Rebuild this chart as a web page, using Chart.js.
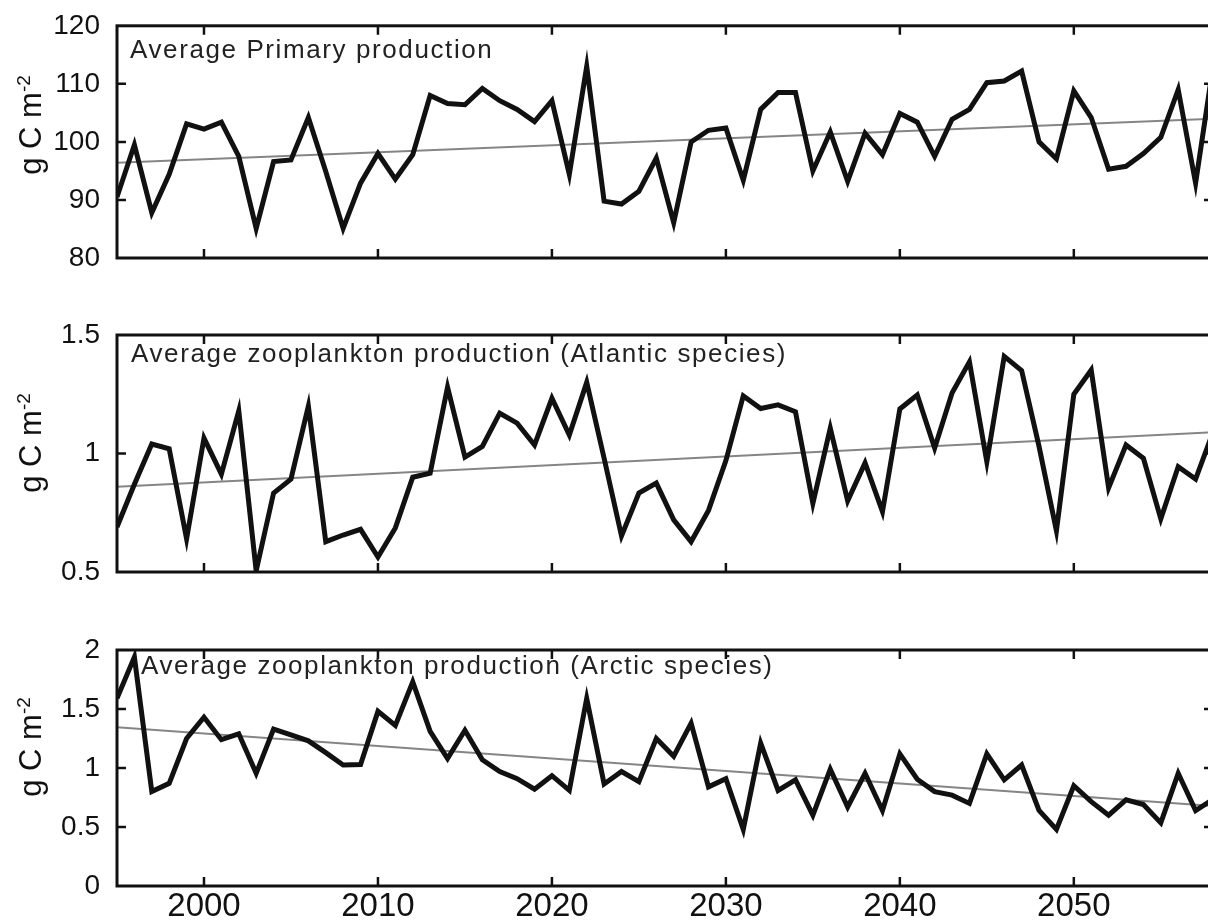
<!DOCTYPE html>
<html><head><meta charset="utf-8">
<script src="https://cdn.jsdelivr.net/npm/chart.js@4.4.1/dist/chart.umd.min.js"></script>
<style>
html,body{margin:0;padding:0;overflow:hidden;background:#fff;}
#wrap{position:relative;width:1208px;height:924px;overflow:hidden;background:#fff;}
canvas{position:absolute;left:0;}
.yt{position:absolute;left:30px;font-family:"Liberation Sans",Arial,sans-serif;font-size:31px;line-height:1;white-space:nowrap;transform:translate(-50%,-50%) rotate(-90deg);color:#111;}
.yt sup{font-size:19px;vertical-align:0.55em;line-height:0;}
</style></head>
<body><div id="wrap">
<canvas id="c1" width="1216" height="300" style="top:0px"></canvas>
<canvas id="c2" width="1216" height="300" style="top:300px"></canvas>
<canvas id="c3" width="1216" height="330" style="top:600px"></canvas>
<div class="yt" style="top:125px">g C m<sup>-2</sup></div>
<div class="yt" style="top:443px">g C m<sup>-2</sup></div>
<div class="yt" style="top:747px">g C m<sup>-2</sup></div>
</div>
<script>
// ---- categories ----
const years = [1995,1996,1997,1998,1999,2000,2001,2002,2003,2004,2005,2006,2007,2008,2009,2010,
  2011,2012,2013,2014,2015,2016,2017,2018,2019,2020,2021,2022,2023,2024,2025,2026,2027,2028,2029,2030,
  2031,2032,2033,2034,2035,2036,2037,2038,2039,2040,2041,2042,2043,2044,2045,2046,2047,2048,2049,2050,
  2051,2052,2053,2054,2055,2056,2057,2058];
const trendYears = [1995, 2058];

// ---- series values ----
const primaryProduction = [90.5,99.5,87.8,94.4,103.1,102.2,103.4,97.5,85.1,96.6,96.9,104.2,94.9,85.1,92.9,98.0,
  93.6,97.8,108.0,106.6,106.4,109.2,107.1,105.6,103.5,107.1,94.4,113.0,89.8,89.3,91.5,97.2,86.1,100.0,102.0,102.4,
  93.4,105.6,108.5,108.5,95.0,101.7,93.2,101.5,97.8,104.9,103.4,97.5,103.9,105.6,110.2,110.5,112.2,100.0,97.1,108.8,
  104.2,95.3,95.8,98.0,100.8,109.0,92.9,113.0];
const primaryTrend = [96.4, 104.0];

const atlanticZoo = [0.69,0.87,1.04,1.02,0.64,1.065,0.913,1.18,0.505,0.833,0.892,1.20,0.628,0.656,0.68,0.563,
  0.686,0.90,0.917,1.28,0.985,1.03,1.17,1.128,1.036,1.233,1.078,1.30,0.98,0.652,0.833,0.875,0.72,0.628,0.76,0.97,
  1.243,1.19,1.205,1.176,0.79,1.107,0.80,0.96,0.755,1.188,1.247,1.023,1.255,1.387,0.965,1.41,1.35,1.03,0.674,1.25,
  1.352,0.855,1.036,0.98,0.724,0.944,0.892,1.09];
const atlanticTrend = [0.86, 1.09];

const arcticZoo = [1.59,1.94,0.80,0.87,1.25,1.43,1.24,1.29,0.955,1.33,1.28,1.23,1.13,1.025,1.03,1.48,
  1.36,1.73,1.31,1.08,1.32,1.07,0.97,0.91,0.82,0.935,0.81,1.59,0.865,0.97,0.885,1.25,1.10,1.38,0.84,0.91,
  0.48,1.21,0.81,0.90,0.60,0.99,0.67,0.955,0.64,1.12,0.905,0.80,0.77,0.70,1.12,0.90,1.025,0.64,0.48,0.85,
  0.715,0.60,0.73,0.69,0.535,0.955,0.64,0.735];
const arcticTrend = [1.345, 0.678];

// ---- tick labels ----
const xTicks = [2000, 2010, 2020, 2030, 2040, 2050];
const xTickLabels = ['2000','2010','2020','2030','2040','2050'];
const yTicks1 = [80, 90, 100, 110, 120];
const yTickLabels1 = ['80','90','100','110','120'];
const yTicks2 = [0.5, 1, 1.5];
const yTickLabels2 = ['0.5','1','1.5'];
const yTicks3 = [0, 0.5, 1, 1.5, 2];
const yTickLabels3 = ['0','0.5','1','1.5','2'];

const titles = ['Average Primary production',
  'Average zooplankton production (Atlantic species)',
  'Average zooplankton production (Arctic species)'];

const FONT = '"Liberation Sans", Arial, sans-serif';

const frameTicks = {
  id: 'frameTicks',
  afterDatasetsDraw(chart, args, o) {
    const {ctx, chartArea: a} = chart;
    const x = chart.scales.x, y = chart.scales.y;
    const L = 9;
    ctx.save();
    ctx.strokeStyle = '#111';
    ctx.lineWidth = 2.5;
    ctx.beginPath();
    o.x.forEach(v => {
      const px = x.getPixelForValue(v);
      ctx.moveTo(px, a.top); ctx.lineTo(px, a.top + L);
      ctx.moveTo(px, a.bottom); ctx.lineTo(px, a.bottom - L);
    });
    o.y.forEach(v => {
      const py = y.getPixelForValue(v);
      if (py <= a.top + 1 || py >= a.bottom - 1) return;
      ctx.moveTo(a.left, py); ctx.lineTo(a.left + L, py);
      ctx.moveTo(a.right, py); ctx.lineTo(a.right - L, py);
    });
    ctx.stroke();
    ctx.lineWidth = 3;
    ctx.strokeRect(a.left, a.top, a.right - a.left, a.bottom - a.top);
    ctx.restore();
  }
};

const panelTitle = {
  id: 'panelTitle',
  afterDatasetsDraw(chart, args, o) {
    const {ctx, chartArea: a} = chart;
    ctx.save();
    ctx.font = '26px ' + FONT;
    try { ctx.letterSpacing = '1.6px'; } catch (e) {}
    ctx.fillStyle = '#222';
    ctx.textBaseline = 'middle';
    ctx.textAlign = 'left';
    ctx.fillText(o.text, a.left + o.dx, a.top + o.dy);
    ctx.restore();
  }
};

function makeChart(id, values, trend, yMin, yMax, yTicks, yLabels, title, cfg) {
  return new Chart(document.getElementById(id), {
    type: 'line',
    data: {
      datasets: [
        { data: years.map((yr, i) => ({x: yr, y: values[i]})), borderColor: '#111', borderWidth: 5,
          pointRadius: 0, tension: 0, fill: false, order: 1 },
        { data: trendYears.map((yr, i) => ({x: yr, y: trend[i]})), borderColor: '#858585', borderWidth: 2,
          pointRadius: 0, tension: 0, fill: false, order: 2 }
      ]
    },
    options: {
      responsive: false, animation: false, events: [],
      layout: { padding: { top: cfg.padTop, bottom: cfg.padBottom, left: 0, right: 3 } },
      plugins: {
        legend: { display: false }, tooltip: { enabled: false },
        frameTicks: { x: xTicks, y: yTicks },
        panelTitle: { text: title, dx: cfg.tdx, dy: cfg.tdy }
      },
      scales: {
        x: {
          type: 'linear', min: 1995, max: 2058, display: cfg.showX,
          grid: { display: false }, border: { display: false },
          afterBuildTicks: s => { s.ticks = xTicks.map(v => ({value: v})); },
          afterFit: s => { if (cfg.showX) s.height = 44; },
          ticks: { font: { family: FONT, size: 33 }, color: '#111', padding: -7, maxRotation: 0,
                   autoSkip: false, callback: (v, i) => xTickLabels[i] }
        },
        y: {
          type: 'linear', min: yMin, max: yMax,
          grid: { display: false }, border: { display: false },
          afterBuildTicks: s => { s.ticks = yTicks.map(v => ({value: v})); },
          afterFit: s => { s.width = 117; },
          ticks: { font: { family: FONT, size: 28 }, color: '#111', padding: 9,
                   callback: (v, i) => yLabels[i] }
        }
      }
    },
    plugins: [frameTicks, panelTitle]
  });
}

makeChart('c1', primaryProduction, primaryTrend, 80, 120, yTicks1, yTickLabels1, titles[0],
  { padTop: 22, padBottom: 42, showX: false, tdx: 13, tdy: 25 });
makeChart('c2', atlanticZoo, atlanticTrend, 0.5, 1.5, yTicks2, yTickLabels2, titles[1],
  { padTop: 35, padBottom: 28, showX: false, tdx: 14, tdy: 20 });
makeChart('c3', arcticZoo, arcticTrend, 0, 2, yTicks3, yTickLabels3, titles[2],
  { padTop: 50, padBottom: 0, showX: true, tdx: 24, tdy: 17 });
</script>
</body></html>
